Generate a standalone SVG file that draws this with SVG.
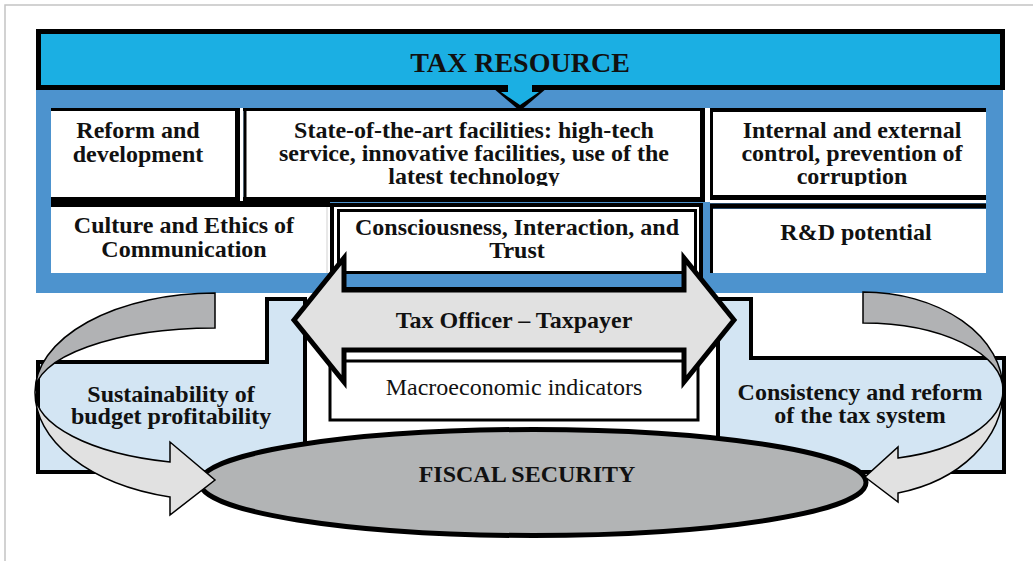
<svg xmlns="http://www.w3.org/2000/svg" width="1033" height="561" viewBox="0 0 1033 561">
<style>
.t{font-family:"Liberation Serif","Times New Roman",serif;font-weight:bold;font-size:24px;text-anchor:middle;fill:#111}
.reg{font-weight:normal}
.k{stroke:#000;fill:none}
.w{fill:#fff}
.lb{fill:#D3E5F3;stroke:#000;stroke-width:4}
.rib{stroke:#000;stroke-width:1.5;stroke-linejoin:miter}
</style>
<defs>
<clipPath id="clipTop"><rect x="0" y="100" width="1033" height="86"/></clipPath>
</defs>
<rect width="1033" height="561" fill="#fff"/>
<path d="M5,561 V5 H1033" fill="none" stroke="#c4c4c4" stroke-width="1.5"/>

<g id="node-panel">
<rect x="36" y="88" width="967" height="205" fill="#4D93CE"/>
</g>
<g id="node-tax-resource">
<rect x="38.5" y="31.5" width="964" height="56" fill="#1BAFE3" stroke="#000" stroke-width="5"/>
<text class="t" x="520" y="72" style="font-size:28px">TAX RESOURCE</text>
</g>

<g id="node-reform">
<rect x="51" y="110" width="187" height="88" class="w"/>
<line x1="51" y1="109.5" x2="240" y2="109.5" class="k" stroke-width="3"/>
<line x1="237.5" y1="108" x2="237.5" y2="202" class="k" stroke-width="5"/>
<line x1="51" y1="199.5" x2="240" y2="199.5" class="k" stroke-width="5"/>
<text class="t" x="138" y="138">Reform and</text>
<text class="t" x="138" y="162">development</text>
</g>
<rect x="240" y="108" width="3.5" height="94" class="w"/>
<rect x="705" y="108" width="5" height="94" class="w"/>
<g id="node-facilities">
<rect x="246" y="111" width="456" height="87" class="w"/>
<line x1="243" y1="109.5" x2="705" y2="109.5" class="k" stroke-width="3"/>
<line x1="245" y1="108" x2="245" y2="202" class="k" stroke-width="3"/>
<line x1="702.5" y1="108" x2="702.5" y2="202" class="k" stroke-width="5"/>
<line x1="243" y1="199.5" x2="705" y2="199.5" class="k" stroke-width="5"/>
<g clip-path="url(#clipTop)">
<text class="t" x="474" y="138">State-of-the-art facilities: high-tech</text>
<text class="t" x="474" y="161">service, innovative facilities, use of the</text>
<text class="t" x="474" y="184">latest technology</text>
</g>
</g>
<g id="node-control">
<rect x="713" y="112" width="273" height="84" class="w"/>
<line x1="710" y1="110" x2="986" y2="110" class="k" stroke-width="4"/>
<line x1="711.5" y1="108" x2="711.5" y2="200" class="k" stroke-width="3"/>
<line x1="710" y1="197.5" x2="986" y2="197.5" class="k" stroke-width="5"/>
<g clip-path="url(#clipTop)">
<text class="t" x="852" y="138">Internal and external</text>
<text class="t" x="852" y="161">control, prevention of</text>
<text class="t" x="852" y="184">corruption</text>
</g>
</g>
<rect x="710" y="200" width="276" height="3" class="w"/>

<g id="node-culture">
<rect x="51" y="207" width="279" height="66" class="w"/>
<line x1="51" y1="204" x2="330" y2="204" class="k" stroke-width="6"/>
<line x1="327" y1="207" x2="327" y2="273" stroke="#e8e8e8" stroke-width="2"/>
<text class="t" x="184" y="233">Culture and Ethics of</text>
<text class="t" x="184" y="257">Communication</text>
</g>
<g id="node-consciousness">
<rect x="332" y="205" width="369" height="84" class="k" stroke-width="4"/>
<rect x="334" y="207" width="365" height="67" class="w"/>
<rect x="338.5" y="210.5" width="357" height="62" class="w" stroke="#000" stroke-width="3"/>
<text class="t" x="517" y="235">Consciousness, Interaction, and</text>
<text class="t" x="517" y="258">Trust</text>
</g>
<g id="node-rd">
<rect x="713" y="209" width="273" height="64" class="w"/>
<line x1="710" y1="206" x2="986" y2="206" class="k" stroke-width="5"/>
<line x1="711.5" y1="204" x2="711.5" y2="273" class="k" stroke-width="3"/>
<text class="t" x="856" y="240">R&amp;D potential</text>
</g>

<g id="node-sustainability">
<polygon class="lb" points="38,362 267,362 267,299 305,299 305,472 38,472"/>
<text class="t" x="171" y="402">Sustainability of</text>
<text class="t" x="171" y="424">budget profitability</text>
</g>
<g id="node-consistency">
<polygon class="lb" points="718,299 751,299 751,358 1004,358 1004,472 718,472"/>
<text class="t" x="860" y="400">Consistency and reform</text>
<text class="t" x="860" y="423">of the tax system</text>
</g>
<g id="node-macro">
<rect x="330" y="361" width="368" height="59" class="w" stroke="#000" stroke-width="3"/>
<text class="t reg" x="514" y="395">Macroeconomic indicators</text>
</g>
<g id="node-fiscal">
<ellipse cx="533" cy="482.5" rx="333" ry="53" fill="#B2B4B5" stroke="#000" stroke-width="5"/>
<text class="t" x="527" y="482">FISCAL SECURITY</text>
</g>
<g id="node-tax-officer">
<polygon points="294,320 344,258 344,290 684,290 684,258 734,320 684,382 684,350 344,350 344,382" fill="#E1E1E1" stroke="#000" stroke-width="5" stroke-linejoin="miter"/>
<text class="t" x="514" y="328">Tax Officer – Taxpayer</text>
</g>

<g id="connectors">
<polygon points="493,88 547,88 520,111" fill="#000"/>
<polygon points="508,84 532,84 532,92 539,92 520,105 501,92 508,92" fill="#1BAFE3"/>
<path class="rib" fill="#B1B2B4" d="M215,293 A180,99 0 0 0 35,392 A180,64 0 0 1 215,328 Z"/>
<path class="rib" fill="#E1E1E1" d="M35,392 A180,108 0 0 0 170,497 L170,515 L215,480 L170,442 L170,462 A180,72 0 0 1 35,392 Z"/>
<path class="rib" fill="#B1B2B4" d="M863,292 A140,98 0 0 1 1003,390 A140,67 0 0 0 863,323 Z"/>
<path class="rib" fill="#E1E1E1" d="M1003,390 A140,106 0 0 1 898,493 L898,502 L865,477 L898,447 L898,458 A140,70 0 0 0 1003,390 Z"/>
</g>
</svg>
